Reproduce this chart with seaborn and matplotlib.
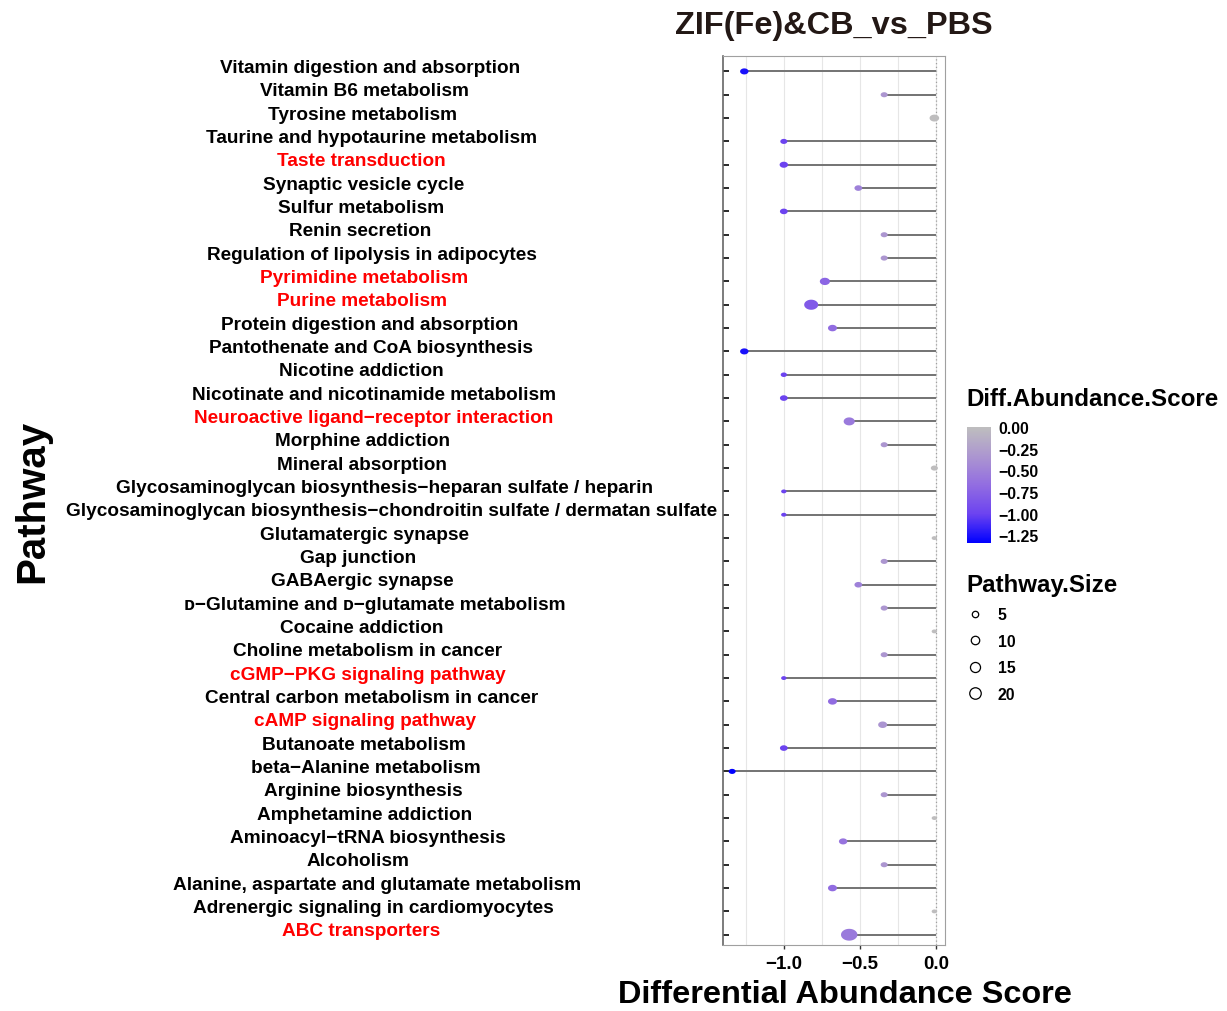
import numpy as np
import pandas as pd
import matplotlib
matplotlib.use("Agg")
import matplotlib.pyplot as plt
import matplotlib.transforms as mtransforms
from matplotlib.colors import LinearSegmentedColormap, Normalize
from matplotlib.lines import Line2D
from matplotlib.path import Path
from matplotlib.cm import ScalarMappable
import seaborn as sns

# ---- data (top row first) ----
PATHWAYS = [
    "Vitamin digestion and absorption",
    "Vitamin B6 metabolism",
    "Tyrosine metabolism",
    "Taurine and hypotaurine metabolism",
    "Taste transduction",
    "Synaptic vesicle cycle",
    "Sulfur metabolism",
    "Renin secretion",
    "Regulation of lipolysis in adipocytes",
    "Pyrimidine metabolism",
    "Purine metabolism",
    "Protein digestion and absorption",
    "Pantothenate and CoA biosynthesis",
    "Nicotine addiction",
    "Nicotinate and nicotinamide metabolism",
    "Neuroactive ligand\u2212receptor interaction",
    "Morphine addiction",
    "Mineral absorption",
    "Glycosaminoglycan biosynthesis\u2212heparan sulfate / heparin",
    "Glycosaminoglycan biosynthesis\u2212chondroitin sulfate / dermatan sulfate",
    "Glutamatergic synapse",
    "Gap junction",
    "GABAergic synapse",
    "\u1d05\u2212Glutamine and \u1d05\u2212glutamate metabolism",
    "Cocaine addiction",
    "Choline metabolism in cancer",
    "cGMP\u2212PKG signaling pathway",
    "Central carbon metabolism in cancer",
    "cAMP signaling pathway",
    "Butanoate metabolism",
    "beta\u2212Alanine metabolism",
    "Arginine biosynthesis",
    "Amphetamine addiction",
    "Aminoacyl\u2212tRNA biosynthesis",
    "Alcoholism",
    "Alanine, aspartate and glutamate metabolism",
    "Adrenergic signaling in cardiomyocytes",
    "ABC transporters",
]
SCORES = [-1.26, -0.34, -0.01, -1.0, -1.0, -0.51, -1.0, -0.34, -0.34, -0.73,
          -0.82, -0.68, -1.26, -1.0, -1.0, -0.57, -0.34, -0.01, -1.0, -1.0,
          -0.01, -0.34, -0.51, -0.34, -0.01, -0.34, -1.0, -0.68, -0.35, -1.0,
          -1.34, -0.34, -0.01, -0.61, -0.34, -0.68, -0.01, -0.57]
SIZES = [5, 3, 7, 3, 5, 4, 4, 3, 3, 8,
         17, 6, 5, 2, 4, 10, 3, 3, 1, 1,
         1, 3, 4, 3, 1, 3, 1, 6, 6, 4,
         3, 3, 1, 5, 3, 6, 1, 24]
RED_PATHWAYS = [
    "Taste transduction",
    "Pyrimidine metabolism",
    "Purine metabolism",
    "Neuroactive ligand\u2212receptor interaction",
    "cGMP\u2212PKG signaling pathway",
    "cAMP signaling pathway",
    "ABC transporters",
]
X_TICKS = [-1.0, -0.5, 0.0]
CBAR_TICKS = [0.0, -0.25, -0.5, -0.75, -1.0, -1.25]
SIZE_BREAKS = [5, 10, 15, 20]

FIG_W, FIG_H = 1227, 1012
DPI = 100

sns.set_style("white")
plt.rcParams["font.family"] = ["Liberation Sans", "DejaVu Sans"]
plt.rcParams["font.weight"] = "bold"
plt.rcParams["text.color"] = "black"
plt.rcParams["xtick.color"] = "black"
plt.rcParams["ytick.color"] = "black"
plt.rcParams["axes.unicode_minus"] = True

df = pd.DataFrame({"pathway": PATHWAYS, "score": SCORES, "size": SIZES})
df["row"] = np.arange(len(df))

# blue -> grey gradient (Lab-like stops, as ggplot does)
cmap = LinearSegmentedColormap.from_list(
    "da", ["#0000FF", "#6C43F0", "#926DE1", "#AC96D0", "#BEBEBE"])
norm = Normalize(vmin=min(SCORES), vmax=0.0)

# points in the reference are drawn slightly squashed
theta = np.linspace(0, 2 * np.pi, 48)
ellipse = Path(np.column_stack([np.cos(theta), 0.72 * np.sin(theta)]), closed=True)
S_MIN, S_MAX, SZ_NORM = 15, 140, (1, 24)

fig = plt.figure(figsize=(FIG_W / DPI, FIG_H / DPI), dpi=DPI)
ax = fig.add_axes([723 / FIG_W, 1 - 946 / FIG_H, 222 / FIG_W, 889 / FIG_H])

ax.hlines(df["row"], df["score"], 0, color="#737373", lw=1.4, zorder=2)
ax.axvline(0, color="#A0A0A0", ls=(0, (1, 2)), lw=0.9, zorder=1)
sns.scatterplot(data=df, x="score", y="row", hue="score", palette=cmap,
                hue_norm=norm, size="size", sizes=(S_MIN, S_MAX),
                size_norm=SZ_NORM, marker=ellipse, linewidth=0,
                legend=False, ax=ax, zorder=3)

ax.set_xlim(-1.40, 0.06)
ax.set_ylim(len(df) - 1 + 0.44, -0.66)
ax.set_xticks(X_TICKS)
ax.set_xticklabels([f"{v:.1f}".replace("-", "\u2212") for v in X_TICKS],
                   fontsize=13.5)
ax.set_xticks([-1.25, -0.75, -0.25], minor=True)
ax.grid(axis="x", which="both", color="#E6E6E6", lw=0.8)
ax.grid(axis="y", visible=False)
ax.set_yticks(df["row"])
ax.set_yticklabels([])
ax.tick_params(axis="y", direction="in", length=4.5, width=1.4,
               color="#2A2A2A", left=True)
ax.tick_params(axis="x", which="major", direction="out", length=3, width=1,
               color="#333333", pad=4, bottom=True)
ax.tick_params(axis="x", which="minor", length=0)
ax.set_xlabel("")
ax.set_ylabel("")
for side in ["top", "right", "bottom"]:
    ax.spines[side].set_color("#A0A0A0")
    ax.spines[side].set_linewidth(0.8)
ax.spines["left"].set_color("#666666")
ax.spines["left"].set_linewidth(1.2)

# pathway labels, centred in a column to the left of the panel
label_tr = mtransforms.blended_transform_factory(fig.transFigure, ax.transData) \
    + mtransforms.ScaledTranslation(0, 4 / DPI, fig.dpi_scale_trans)
LABEL_ANCHOR = 351
labels = []
for name, row in zip(df["pathway"], df["row"]):
    col = "#FF0000" if name in RED_PATHWAYS else "black"
    t = fig.text(LABEL_ANCHOR / FIG_W, row, name, transform=label_tr,
                 ha="center", va="center", fontsize=13.7, color=col)
    labels.append(t)

fig.text(834 / FIG_W, 1 - 26 / FIG_H, "ZIF(Fe)&CB_vs_PBS", ha="center",
         va="center", fontsize=23.4, color="#231815")
fig.text(845 / FIG_W, 1 - 995 / FIG_H, "Differential Abundance Score",
         ha="center", va="center", fontsize=23.4)
fig.text(32 / FIG_W, 1 - 501 / FIG_H, "Pathway", rotation=90, ha="center",
         va="center", fontsize=29)

# colour legend
fig.text(966 / FIG_W, 1 - 400 / FIG_H, "Diff.Abundance.Score", ha="left",
         va="center", fontsize=17.4)
cax = fig.add_axes([967 / FIG_W, 1 - 544 / FIG_H, 24 / FIG_W, 116 / FIG_H])
sm = ScalarMappable(norm=norm, cmap=cmap)
cb = fig.colorbar(sm, cax=cax)
cb.outline.set_visible(False)
cb.set_ticks(CBAR_TICKS)
cb.set_ticklabels([f"{v:.2f}".replace("-", "\u2212") for v in CBAR_TICKS])
cax.tick_params(direction="in", color="white", length=4, width=0.8,
                left=True, right=True, labelleft=False, labelright=True,
                labelsize=11.4, pad=5.5)

# size legend
handles = []
for v in SIZE_BREAKS:
    s = S_MIN + (S_MAX - S_MIN) * (v - SZ_NORM[0]) / (SZ_NORM[1] - SZ_NORM[0])
    handles.append(Line2D([], [], ls="", marker="o", markerfacecolor="none",
                          markeredgecolor="black", markeredgewidth=0.9,
                          markersize=0.76 * np.sqrt(s)))
fig.legend(handles, [str(v) for v in SIZE_BREAKS], title="Pathway.Size",
           loc="upper left", bbox_to_anchor=(966 / FIG_W, 1 - 574 / FIG_H),
           frameon=False, fontsize=11.4, title_fontsize=17.4, alignment="left",
           labelspacing=0.72, handletextpad=0.9, handlelength=1.1,
           borderpad=0, borderaxespad=0)

# the reference's labels drift right as they get longer; mimic that
fig.canvas.draw()
renderer = fig.canvas.get_renderer()
for t in labels:
    w = t.get_window_extent(renderer).width
    t.set_x((LABEL_ANCHOR + 0.063 * w) / FIG_W)

fig.savefig("out.png", dpi=DPI)
